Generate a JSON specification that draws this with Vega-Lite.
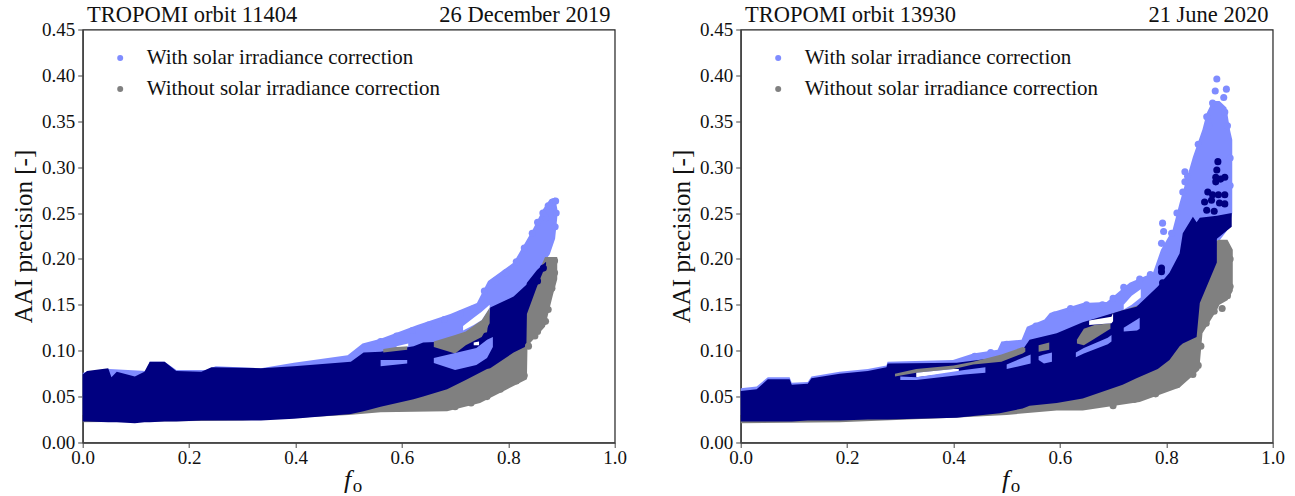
{"$schema":"https://vega.github.io/schema/vega-lite/v6.json","padding":{"left":10.7,"top":3.5,"right":0,"bottom":0},"background":"white",
"config":{"font":"Liberation Serif","view":{"stroke":"#222","strokeWidth":1.2},"axis":{"grid":false,"labelFont":"Liberation Serif","titleFont":"Liberation Serif","labelColor":"#111","titleColor":"#111","domainColor":"#444","tickColor":"#444","labelFontSize":19,"tickSize":5,"domainWidth":1.5,"labelPadding":3,"labelFlush":false,"labelOverlap":false,"titleFontWeight":"normal"},"text":{"font":"Liberation Serif","color":"#111"}},
"datasets":{
"a1":[
{"b":"w","s":"with","f":0,"lo":0.03,"hi":0.076},{"b":"w","s":"with","f":0.05,"lo":0.03,"hi":0.08},{"b":"w","s":"with","f":0.12,"lo":0.03,"hi":0.078},{"b":"w","s":"with","f":0.126,"lo":0.03,"hi":0.088},{"b":"w","s":"with","f":0.154,"lo":0.03,"hi":0.088},{"b":"w","s":"with","f":0.176,"lo":0.03,"hi":0.079},{"b":"w","s":"with","f":0.232,"lo":0.03,"hi":0.079},{"b":"w","s":"with","f":0.25,"lo":0.03,"hi":0.083},{"b":"w","s":"with","f":0.335,"lo":0.03,"hi":0.081},{"b":"w","s":"with","f":0.397,"lo":0.03,"hi":0.087},{"b":"w","s":"with","f":0.498,"lo":0.04,"hi":0.095},{"b":"w","s":"with","f":0.526,"lo":0.04,"hi":0.108},{"b":"w","s":"with","f":0.56,"lo":0.05,"hi":0.113},{"b":"w","s":"with","f":0.629,"lo":0.06,"hi":0.128},{"b":"w","s":"with","f":0.691,"lo":0.07,"hi":0.14},{"b":"w","s":"with","f":0.741,"lo":0.08,"hi":0.152},{"b":"w","s":"with","f":0.762,"lo":0.09,"hi":0.176},{"b":"w","s":"with","f":0.81,"lo":0.12,"hi":0.196},{"b":"w","s":"with","f":0.846,"lo":0.16,"hi":0.232},{"b":"w","s":"with","f":0.865,"lo":0.195,"hi":0.254},{"b":"w","s":"with","f":0.878,"lo":0.205,"hi":0.265},{"b":"w","s":"with","f":0.888,"lo":0.222,"hi":0.267},{"b":"w","s":"with","f":0.892,"lo":0.245,"hi":0.255},
{"b":"g","s":"without","f":0,"lo":0.022,"hi":0.05},{"b":"g","s":"without","f":0.3,"lo":0.024,"hi":0.06},{"b":"g","s":"without","f":0.4,"lo":0.027,"hi":0.07},{"b":"g","s":"without","f":0.5,"lo":0.03,"hi":0.08},{"b":"g","s":"without","f":0.56,"lo":0.033,"hi":0.09},{"b":"g","s":"without","f":0.685,"lo":0.034,"hi":0.1},{"b":"g","s":"without","f":0.747,"lo":0.043,"hi":0.12},{"b":"g","s":"without","f":0.798,"lo":0.058,"hi":0.14},{"b":"g","s":"without","f":0.835,"lo":0.069,"hi":0.15},{"b":"g","s":"without","f":0.836,"lo":0.102,"hi":0.155},{"b":"g","s":"without","f":0.842,"lo":0.109,"hi":0.165},{"b":"g","s":"without","f":0.869,"lo":0.126,"hi":0.202},{"b":"g","s":"without","f":0.884,"lo":0.161,"hi":0.202},{"b":"g","s":"without","f":0.892,"lo":0.178,"hi":0.202},
{"b":"n","s":"both","f":0,"lo":0.023,"hi":0.074},{"b":"n","s":"both","f":0.008,"lo":0.023,"hi":0.078},{"b":"n","s":"both","f":0.048,"lo":0.022,"hi":0.081},{"b":"n","s":"both","f":0.054,"lo":0.022,"hi":0.071},{"b":"n","s":"both","f":0.064,"lo":0.022,"hi":0.077},{"b":"n","s":"both","f":0.098,"lo":0.021,"hi":0.072},{"b":"n","s":"both","f":0.116,"lo":0.022,"hi":0.077},{"b":"n","s":"both","f":0.126,"lo":0.022,"hi":0.088},{"b":"n","s":"both","f":0.154,"lo":0.023,"hi":0.088},{"b":"n","s":"both","f":0.176,"lo":0.023,"hi":0.078},{"b":"n","s":"both","f":0.223,"lo":0.024,"hi":0.077},{"b":"n","s":"both","f":0.242,"lo":0.024,"hi":0.082},{"b":"n","s":"both","f":0.335,"lo":0.024,"hi":0.081},{"b":"n","s":"both","f":0.397,"lo":0.026,"hi":0.083},{"b":"n","s":"both","f":0.504,"lo":0.031,"hi":0.088},{"b":"n","s":"both","f":0.528,"lo":0.034,"hi":0.098},{"b":"n","s":"both","f":0.56,"lo":0.039,"hi":0.099},{"b":"n","s":"both","f":0.622,"lo":0.047,"hi":0.105},{"b":"n","s":"both","f":0.64,"lo":0.05,"hi":0.109},{"b":"n","s":"both","f":0.685,"lo":0.058,"hi":0.11},{"b":"n","s":"both","f":0.72,"lo":0.068,"hi":0.115},{"b":"n","s":"both","f":0.76,"lo":0.08,"hi":0.12},{"b":"n","s":"both","f":0.766,"lo":0.081,"hi":0.147},{"b":"n","s":"both","f":0.81,"lo":0.098,"hi":0.159},{"b":"n","s":"both","f":0.834,"lo":0.105,"hi":0.172},{"b":"n","s":"both","f":0.835,"lo":0.14,"hi":0.174},{"b":"n","s":"both","f":0.854,"lo":0.17,"hi":0.188},{"b":"n","s":"both","f":0.871,"lo":0.194,"hi":0.197},
{"b":"p1","s":"without","f":0.66,"lo":0.104,"hi":0.11},{"b":"p1","s":"without","f":0.7,"lo":0.097,"hi":0.117},{"b":"p1","s":"without","f":0.72,"lo":0.106,"hi":0.121},{"b":"p1","s":"without","f":0.75,"lo":0.115,"hi":0.1335},{"b":"p1","s":"without","f":0.765,"lo":0.13,"hi":0.147},
{"b":"p2","s":"without","f":0.565,"lo":0.098,"hi":0.102},{"b":"p2","s":"without","f":0.61,"lo":0.101,"hi":0.106},
{"b":"h1","s":"gap","f":0.715,"lo":0.122,"hi":0.127},{"b":"h1","s":"gap","f":0.735,"lo":0.128,"hi":0.136},{"b":"h1","s":"gap","f":0.75,"lo":0.1335,"hi":0.1425},{"b":"h1","s":"gap","f":0.765,"lo":0.147,"hi":0.15},
{"b":"h2","s":"gap","f":0.59,"lo":0.104,"hi":0.105},{"b":"h2","s":"gap","f":0.612,"lo":0.105,"hi":0.108},
{"b":"h3","s":"gap","f":0.735,"lo":0.106,"hi":0.109},{"b":"h3","s":"gap","f":0.745,"lo":0.106,"hi":0.11},
{"b":"q1","s":"with","f":0.66,"lo":0.0865,"hi":0.092},{"b":"q1","s":"with","f":0.7,"lo":0.079,"hi":0.0975},{"b":"q1","s":"with","f":0.74,"lo":0.0845,"hi":0.103},{"b":"q1","s":"with","f":0.76,"lo":0.092,"hi":0.112},{"b":"q1","s":"with","f":0.771,"lo":0.104,"hi":0.115},
{"b":"q2","s":"with","f":0.56,"lo":0.083,"hi":0.09},{"b":"q2","s":"with","f":0.61,"lo":0.086,"hi":0.09}
],
"p1":[
{"s":"with","f":0.884,"v":0.262},{"s":"with","f":0.889,"v":0.263},{"s":"with","f":0.89,"v":0.25},{"s":"with","f":0.888,"v":0.235},{"s":"with","f":0.87,"v":0.245},
{"s":"with","f":0.56,"v":0.11},{"s":"with","f":0.59,"v":0.116},{"s":"with","f":0.62,"v":0.122},{"s":"with","f":0.65,"v":0.128},{"s":"with","f":0.68,"v":0.134},{"s":"with","f":0.71,"v":0.14},{"s":"with","f":0.735,"v":0.146},{"s":"with","f":0.755,"v":0.165},{"s":"with","f":0.775,"v":0.176},{"s":"with","f":0.795,"v":0.185},{"s":"with","f":0.815,"v":0.197},{"s":"with","f":0.83,"v":0.212},{"s":"with","f":0.845,"v":0.228},{"s":"with","f":0.855,"v":0.24},{"s":"with","f":0.865,"v":0.25},{"s":"with","f":0.875,"v":0.258},
{"s":"without","f":0.887,"v":0.198},{"s":"without","f":0.887,"v":0.185},{"s":"without","f":0.882,"v":0.168},{"s":"without","f":0.87,"v":0.132},{"s":"without","f":0.85,"v":0.116},{"s":"without","f":0.83,"v":0.073},{"s":"without","f":0.815,"v":0.067},
{"s":"without","f":0.7,"v":0.039},{"s":"without","f":0.73,"v":0.043},{"s":"without","f":0.76,"v":0.05},{"s":"without","f":0.785,"v":0.058},{"s":"without","f":0.838,"v":0.105},{"s":"without","f":0.855,"v":0.121},{"s":"without","f":0.875,"v":0.145},
{"s":"both","f":0.866,"v":0.19},{"s":"both","f":0.855,"v":0.176}
],
"a2":[
{"b":"w","s":"with","f":0,"lo":0.03,"hi":0.059},{"b":"w","s":"with","f":0.03,"lo":0.03,"hi":0.061},{"b":"w","s":"with","f":0.051,"lo":0.03,"hi":0.071},{"b":"w","s":"with","f":0.092,"lo":0.03,"hi":0.071},{"b":"w","s":"with","f":0.096,"lo":0.03,"hi":0.065},{"b":"w","s":"with","f":0.126,"lo":0.03,"hi":0.066},{"b":"w","s":"with","f":0.133,"lo":0.03,"hi":0.072},{"b":"w","s":"with","f":0.186,"lo":0.03,"hi":0.077},{"b":"w","s":"with","f":0.239,"lo":0.03,"hi":0.08},{"b":"w","s":"with","f":0.274,"lo":0.03,"hi":0.084},{"b":"w","s":"with","f":0.276,"lo":0.03,"hi":0.088},{"b":"w","s":"with","f":0.399,"lo":0.03,"hi":0.09},{"b":"w","s":"with","f":0.437,"lo":0.04,"hi":0.097},{"b":"w","s":"with","f":0.483,"lo":0.04,"hi":0.101},{"b":"w","s":"with","f":0.49,"lo":0.04,"hi":0.11},{"b":"w","s":"with","f":0.528,"lo":0.05,"hi":0.112},{"b":"w","s":"with","f":0.538,"lo":0.05,"hi":0.126},{"b":"w","s":"with","f":0.571,"lo":0.05,"hi":0.134},{"b":"w","s":"with","f":0.581,"lo":0.05,"hi":0.141},{"b":"w","s":"with","f":0.643,"lo":0.06,"hi":0.152},{"b":"w","s":"with","f":0.688,"lo":0.07,"hi":0.153},{"b":"w","s":"with","f":0.731,"lo":0.08,"hi":0.174},{"b":"w","s":"with","f":0.775,"lo":0.1,"hi":0.185},{"b":"w","s":"with","f":0.79,"lo":0.12,"hi":0.21},{"b":"w","s":"with","f":0.812,"lo":0.15,"hi":0.232},{"b":"w","s":"with","f":0.825,"lo":0.17,"hi":0.261},{"b":"w","s":"with","f":0.85,"lo":0.2,"hi":0.311},{"b":"w","s":"with","f":0.868,"lo":0.21,"hi":0.341},{"b":"w","s":"with","f":0.876,"lo":0.215,"hi":0.359},{"b":"w","s":"with","f":0.887,"lo":0.22,"hi":0.372},{"b":"w","s":"with","f":0.9,"lo":0.22,"hi":0.372},{"b":"w","s":"with","f":0.913,"lo":0.23,"hi":0.365},{"b":"w","s":"with","f":0.92,"lo":0.24,"hi":0.34},{"b":"w","s":"with","f":0.924,"lo":0.25,"hi":0.33},
{"b":"g","s":"without","f":0,"lo":0.021,"hi":0.05},{"b":"g","s":"without","f":0.186,"lo":0.022,"hi":0.05},{"b":"g","s":"without","f":0.399,"lo":0.027,"hi":0.08},{"b":"g","s":"without","f":0.5,"lo":0.03,"hi":0.09},{"b":"g","s":"without","f":0.594,"lo":0.035,"hi":0.11},{"b":"g","s":"without","f":0.643,"lo":0.035,"hi":0.13},{"b":"g","s":"without","f":0.75,"lo":0.044,"hi":0.15},{"b":"g","s":"without","f":0.825,"lo":0.06,"hi":0.17},{"b":"g","s":"without","f":0.862,"lo":0.079,"hi":0.19},{"b":"g","s":"without","f":0.868,"lo":0.119,"hi":0.2},{"b":"g","s":"without","f":0.895,"lo":0.144,"hi":0.22},{"b":"g","s":"without","f":0.9,"lo":0.15,"hi":0.221},{"b":"g","s":"without","f":0.915,"lo":0.155,"hi":0.221},{"b":"g","s":"without","f":0.925,"lo":0.165,"hi":0.21},
{"b":"n","s":"both","f":0,"lo":0.023,"hi":0.056},{"b":"n","s":"both","f":0.03,"lo":0.023,"hi":0.058},{"b":"n","s":"both","f":0.051,"lo":0.023,"hi":0.069},{"b":"n","s":"both","f":0.092,"lo":0.023,"hi":0.069},{"b":"n","s":"both","f":0.096,"lo":0.023,"hi":0.063},{"b":"n","s":"both","f":0.126,"lo":0.024,"hi":0.064},{"b":"n","s":"both","f":0.133,"lo":0.024,"hi":0.07},{"b":"n","s":"both","f":0.186,"lo":0.024,"hi":0.075},{"b":"n","s":"both","f":0.239,"lo":0.025,"hi":0.078},{"b":"n","s":"both","f":0.274,"lo":0.025,"hi":0.082},{"b":"n","s":"both","f":0.276,"lo":0.025,"hi":0.086},{"b":"n","s":"both","f":0.406,"lo":0.027,"hi":0.087},{"b":"n","s":"both","f":0.487,"lo":0.032,"hi":0.093},{"b":"n","s":"both","f":0.53,"lo":0.037,"hi":0.101},{"b":"n","s":"both","f":0.543,"lo":0.04,"hi":0.112},{"b":"n","s":"both","f":0.594,"lo":0.043,"hi":0.119},{"b":"n","s":"both","f":0.643,"lo":0.048,"hi":0.131},{"b":"n","s":"both","f":0.718,"lo":0.063,"hi":0.144},{"b":"n","s":"both","f":0.744,"lo":0.07,"hi":0.148},{"b":"n","s":"both","f":0.784,"lo":0.08,"hi":0.17},{"b":"n","s":"both","f":0.806,"lo":0.09,"hi":0.185},{"b":"n","s":"both","f":0.825,"lo":0.105,"hi":0.206},{"b":"n","s":"both","f":0.831,"lo":0.108,"hi":0.228},{"b":"n","s":"both","f":0.85,"lo":0.113,"hi":0.246},{"b":"n","s":"both","f":0.857,"lo":0.115,"hi":0.24},{"b":"n","s":"both","f":0.863,"lo":0.152,"hi":0.245},{"b":"n","s":"both","f":0.895,"lo":0.196,"hi":0.247},{"b":"n","s":"both","f":0.8951,"lo":0.222,"hi":0.247},{"b":"n","s":"both","f":0.923,"lo":0.235,"hi":0.25},
{"b":"pa","s":"without","f":0.29,"lo":0.072,"hi":0.075},{"b":"pa","s":"without","f":0.33,"lo":0.076,"hi":0.08},{"b":"pa","s":"without","f":0.4,"lo":0.08,"hi":0.084},{"b":"pa","s":"without","f":0.437,"lo":0.085,"hi":0.088},{"b":"pa","s":"without","f":0.49,"lo":0.088,"hi":0.096},{"b":"pa","s":"without","f":0.53,"lo":0.097,"hi":0.104},{"b":"pa","s":"without","f":0.535,"lo":0.099,"hi":0.103},
{"b":"ha","s":"gap","f":0.33,"lo":0.071,"hi":0.076},{"b":"ha","s":"gap","f":0.4,"lo":0.076,"hi":0.08},{"b":"ha","s":"gap","f":0.41,"lo":0.077,"hi":0.08},
{"b":"qa","s":"with","f":0.3,"lo":0.068,"hi":0.072},{"b":"qa","s":"with","f":0.33,"lo":0.068,"hi":0.071},{"b":"qa","s":"with","f":0.42,"lo":0.074,"hi":0.079},{"b":"qa","s":"with","f":0.46,"lo":0.076,"hi":0.082},
{"b":"qb","s":"with","f":0.5,"lo":0.08,"hi":0.085},{"b":"qb","s":"with","f":0.545,"lo":0.086,"hi":0.096},
{"b":"pb","s":"without","f":0.56,"lo":0.099,"hi":0.106},{"b":"pb","s":"without","f":0.58,"lo":0.101,"hi":0.109},
{"b":"qc","s":"with","f":0.56,"lo":0.09,"hi":0.094},{"b":"qc","s":"with","f":0.57,"lo":0.086,"hi":0.096},{"b":"qc","s":"with","f":0.585,"lo":0.088,"hi":0.098},
{"b":"pc","s":"without","f":0.632,"lo":0.108,"hi":0.112},{"b":"pc","s":"without","f":0.645,"lo":0.106,"hi":0.124},{"b":"pc","s":"without","f":0.665,"lo":0.113,"hi":0.128},{"b":"pc","s":"without","f":0.695,"lo":0.124,"hi":0.13},
{"b":"hc","s":"gap","f":0.655,"lo":0.128,"hi":0.133},{"b":"hc","s":"gap","f":0.697,"lo":0.13,"hi":0.137},{"b":"hc","s":"gap","f":0.7,"lo":0.132,"hi":0.141},
{"b":"qd","s":"with","f":0.63,"lo":0.093,"hi":0.098},{"b":"qd","s":"with","f":0.645,"lo":0.097,"hi":0.103},{"b":"qd","s":"with","f":0.69,"lo":0.107,"hi":0.114},{"b":"qd","s":"with","f":0.697,"lo":0.11,"hi":0.117},
{"b":"qe","s":"with","f":0.72,"lo":0.121,"hi":0.125},{"b":"qe","s":"with","f":0.745,"lo":0.122,"hi":0.134},{"b":"qe","s":"with","f":0.75,"lo":0.124,"hi":0.136},
{"b":"he","s":"gap","f":0.72,"lo":0.145,"hi":0.15},{"b":"he","s":"gap","f":0.735,"lo":0.15,"hi":0.16},{"b":"he","s":"gap","f":0.752,"lo":0.158,"hi":0.167}
],
"p2":[
{"s":"with","f":0.895,"v":0.396},{"s":"with","f":0.913,"v":0.385},{"s":"with","f":0.908,"v":0.376},{"s":"with","f":0.892,"v":0.383},{"s":"with","f":0.887,"v":0.37},{"s":"with","f":0.91,"v":0.36},{"s":"with","f":0.876,"v":0.355},{"s":"with","f":0.88,"v":0.345},{"s":"with","f":0.793,"v":0.239},{"s":"with","f":0.795,"v":0.23},{"s":"with","f":0.791,"v":0.217},{"s":"with","f":0.835,"v":0.295},{"s":"with","f":0.835,"v":0.284},{"s":"with","f":0.831,"v":0.273},
{"s":"with","f":0.44,"v":0.094},{"s":"with","f":0.47,"v":0.098},{"s":"with","f":0.5,"v":0.107},{"s":"with","f":0.555,"v":0.127},{"s":"with","f":0.59,"v":0.139},{"s":"with","f":0.62,"v":0.146},{"s":"with","f":0.65,"v":0.15},{"s":"with","f":0.68,"v":0.15},{"s":"with","f":0.7,"v":0.157},{"s":"with","f":0.72,"v":0.169},{"s":"with","f":0.75,"v":0.178},{"s":"with","f":0.77,"v":0.183},{"s":"with","f":0.81,"v":0.228},{"s":"with","f":0.82,"v":0.25},{"s":"with","f":0.84,"v":0.29},{"s":"with","f":0.86,"v":0.325},{"s":"with","f":0.915,"v":0.345},{"s":"with","f":0.92,"v":0.31},{"s":"with","f":0.92,"v":0.28},
{"s":"without","f":0.92,"v":0.2},{"s":"without","f":0.92,"v":0.17},{"s":"without","f":0.905,"v":0.146},{"s":"without","f":0.86,"v":0.084},
{"s":"without","f":0.7,"v":0.04},{"s":"without","f":0.74,"v":0.047},{"s":"without","f":0.78,"v":0.053},{"s":"without","f":0.82,"v":0.063},{"s":"without","f":0.85,"v":0.074},{"s":"without","f":0.865,"v":0.105},{"s":"without","f":0.875,"v":0.13},{"s":"without","f":0.89,"v":0.143},{"s":"without","f":0.915,"v":0.16},
{"s":"both","f":0.791,"v":0.19},{"s":"both","f":0.791,"v":0.186},{"s":"both","f":0.793,"v":0.174},{"s":"both","f":0.897,"v":0.306},{"s":"both","f":0.895,"v":0.297},{"s":"both","f":0.893,"v":0.289},{"s":"both","f":0.91,"v":0.289},{"s":"both","f":0.902,"v":0.287},{"s":"both","f":0.893,"v":0.284},{"s":"both","f":0.878,"v":0.273},{"s":"both","f":0.887,"v":0.27},{"s":"both","f":0.898,"v":0.27},{"s":"both","f":0.91,"v":0.27},{"s":"both","f":0.872,"v":0.262},{"s":"both","f":0.885,"v":0.264},{"s":"both","f":0.9,"v":0.261},{"s":"both","f":0.91,"v":0.26},{"s":"both","f":0.876,"v":0.253},{"s":"both","f":0.89,"v":0.252}
]
},
"hconcat":[
{"width":532,"height":413,"layer":[
{"data":{"name":"a1"},"mark":{"type":"area","interpolate":"linear"},"encoding":{"x":{"field":"f","type":"quantitative","scale":{"domain":[0,1]},"axis":{"values":[0,0.2,0.4,0.6,0.8,1],"format":".1f","title":null,"labelPadding":1.5}},"y":{"field":"lo","type":"quantitative","scale":{"domain":[0,0.45]},"axis":{"values":[0,0.05,0.1,0.15,0.2,0.25,0.3,0.35,0.4,0.45],"format":".2f","title":"AAI precision [-]","titleFontSize":25,"titlePadding":5}},"y2":{"field":"hi"},"color":{"field":"s","type":"nominal","scale":{"domain":["with","without","both","gap"],"range":["#7F8CFF","#808080","#000080","#ffffff"]},"legend":{"values":["with","without"],"title":null,"orient":"none","legendX":27,"legendY":18,"symbolType":"circle","symbolSize":36,"labelFont":"Liberation Serif","labelFontSize":21,"labelColor":"#111","rowPadding":9,"labelOffset":16,"labelLimit":400,"labelExpr":"datum.label=='with'?'With solar irradiance correction':'Without solar irradiance correction'"}},"detail":{"field":"b"}}},
{"data":{"name":"p1"},"mark":{"type":"point","filled":true,"size":50,"opacity":1},"encoding":{"x":{"field":"f","type":"quantitative"},"y":{"field":"v","type":"quantitative"},"color":{"field":"s","type":"nominal","scale":{"domain":["with","without","both","gap"],"range":["#7F8CFF","#808080","#000080","#ffffff"]},"legend":{"values":["with","without"],"title":null,"orient":"none","legendX":27,"legendY":18,"symbolType":"circle","symbolSize":36,"labelFont":"Liberation Serif","labelFontSize":21,"labelColor":"#111","rowPadding":9,"labelOffset":16,"labelLimit":400,"labelExpr":"datum.label=='with'?'With solar irradiance correction':'Without solar irradiance correction'"}}}},
{"data":{"values":[{"f":0.008,"v":0.458,"t":"TROPOMI orbit 11404"}]},"mark":{"type":"text","align":"left","baseline":"alphabetic","fontSize":22.5},"encoding":{"x":{"field":"f","type":"quantitative"},"y":{"field":"v","type":"quantitative"},"text":{"field":"t"}}},
{"data":{"values":[{"f":0.992,"v":0.458,"t":"26 December 2019"}]},"mark":{"type":"text","align":"right","baseline":"alphabetic","fontSize":22.5},"encoding":{"x":{"field":"f","type":"quantitative"},"y":{"field":"v","type":"quantitative"},"text":{"field":"t"}}},
{"data":{"values":[{"f":0.498,"v":-0.0495,"t":"f"}]},"mark":{"type":"text","align":"center","baseline":"alphabetic","fontSize":26,"fontStyle":"italic"},"encoding":{"x":{"field":"f","type":"quantitative"},"y":{"field":"v","type":"quantitative"},"text":{"field":"t"}}},
{"data":{"values":[{"f":0.5075,"v":-0.054,"t":"o"}]},"mark":{"type":"text","align":"left","baseline":"alphabetic","fontSize":19},"encoding":{"x":{"field":"f","type":"quantitative"},"y":{"field":"v","type":"quantitative"},"text":{"field":"t"}}}
]},
{"width":532,"height":413,"layer":[
{"data":{"name":"a2"},"mark":{"type":"area","interpolate":"linear"},"encoding":{"x":{"field":"f","type":"quantitative","scale":{"domain":[0,1]},"axis":{"values":[0,0.2,0.4,0.6,0.8,1],"format":".1f","title":null,"labelPadding":1.5}},"y":{"field":"lo","type":"quantitative","scale":{"domain":[0,0.45]},"axis":{"values":[0,0.05,0.1,0.15,0.2,0.25,0.3,0.35,0.4,0.45],"format":".2f","title":"AAI precision [-]","titleFontSize":25,"titlePadding":5}},"y2":{"field":"hi"},"color":{"field":"s","type":"nominal","scale":{"domain":["with","without","both","gap"],"range":["#7F8CFF","#808080","#000080","#ffffff"]},"legend":{"values":["with","without"],"title":null,"orient":"none","legendX":27,"legendY":18,"symbolType":"circle","symbolSize":36,"labelFont":"Liberation Serif","labelFontSize":21,"labelColor":"#111","rowPadding":9,"labelOffset":16,"labelLimit":400,"labelExpr":"datum.label=='with'?'With solar irradiance correction':'Without solar irradiance correction'"}},"detail":{"field":"b"}}},
{"data":{"name":"p2"},"mark":{"type":"point","filled":true,"size":50,"opacity":1},"encoding":{"x":{"field":"f","type":"quantitative"},"y":{"field":"v","type":"quantitative"},"color":{"field":"s","type":"nominal","scale":{"domain":["with","without","both","gap"],"range":["#7F8CFF","#808080","#000080","#ffffff"]},"legend":{"values":["with","without"],"title":null,"orient":"none","legendX":27,"legendY":18,"symbolType":"circle","symbolSize":36,"labelFont":"Liberation Serif","labelFontSize":21,"labelColor":"#111","rowPadding":9,"labelOffset":16,"labelLimit":400,"labelExpr":"datum.label=='with'?'With solar irradiance correction':'Without solar irradiance correction'"}}}},
{"data":{"values":[{"f":0.008,"v":0.458,"t":"TROPOMI orbit 13930"}]},"mark":{"type":"text","align":"left","baseline":"alphabetic","fontSize":22.5},"encoding":{"x":{"field":"f","type":"quantitative"},"y":{"field":"v","type":"quantitative"},"text":{"field":"t"}}},
{"data":{"values":[{"f":0.992,"v":0.458,"t":"21 June 2020"}]},"mark":{"type":"text","align":"right","baseline":"alphabetic","fontSize":22.5},"encoding":{"x":{"field":"f","type":"quantitative"},"y":{"field":"v","type":"quantitative"},"text":{"field":"t"}}},
{"data":{"values":[{"f":0.498,"v":-0.0495,"t":"f"}]},"mark":{"type":"text","align":"center","baseline":"alphabetic","fontSize":26,"fontStyle":"italic"},"encoding":{"x":{"field":"f","type":"quantitative"},"y":{"field":"v","type":"quantitative"},"text":{"field":"t"}}},
{"data":{"values":[{"f":0.5075,"v":-0.054,"t":"o"}]},"mark":{"type":"text","align":"left","baseline":"alphabetic","fontSize":19},"encoding":{"x":{"field":"f","type":"quantitative"},"y":{"field":"v","type":"quantitative"},"text":{"field":"t"}}}
]}
],
"spacing":41,"resolve":{"scale":{"color":"independent"},"legend":{"color":"independent"}}
}
